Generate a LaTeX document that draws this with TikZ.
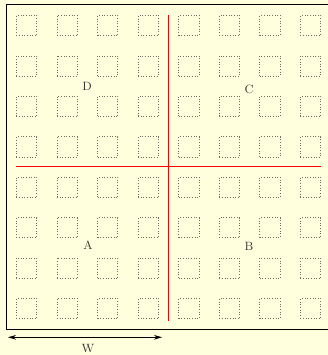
\documentclass[tikz,border=0pt]{standalone}
\usetikzlibrary{arrows.meta}
\definecolor{bgyellow}{RGB}{255,255,221}
\definecolor{dotgray}{RGB}{110,110,100}
\begin{document}
\begin{tikzpicture}[x=0.75pt,y=-0.75pt,
  cell/.style={draw=dotgray,line width=0.45pt,dash pattern=on 0.45pt off 1.55pt,minimum size=15.2pt,inner sep=0pt},
  split/.style={red,line width=0.8pt},
  frameline/.style={black,line width=0.7pt},
  lbl/.style={font=\small,inner sep=0pt,text=black!80}]
\fill[bgyellow] (0,0) rectangle (328,355);
\useasboundingbox (0,0) rectangle (328,355);
% frame (right side lies beyond the picture)
\coordinate (ftr) at (330,4.8);
\coordinate (ftl) at (6,4.8);
\coordinate (fbl) at (6,329);
\coordinate (fbr) at (330,329);
\draw[frameline] (ftr) -- (ftl) -- (fbl) -- (fbr);
% grid of dotted squares
\foreach \i in {0,...,7}{
  \foreach \j in {0,...,7}{
    \node[cell] (c\i\j) at ({26.5+40.57*\i},{25.5+40.43*\j}) {};
  }
}
% red splitting lines
\coordinate (vt) at (168.3,15);
\coordinate (vb) at (168.3,321);
\coordinate (hl) at (16,166.7);
\coordinate (hr) at (321,166.7);
\draw[split] (vt) -- (vb);
\draw[split] (hl) -- (hr);
% quadrant labels
\node[lbl] (D) at (87,86) {D};
\node[lbl] (C) at (249,89) {C};
\node[lbl] (A) at (88,245) {A};
\node[lbl] (B) at (249,246) {B};
% width arrow
\coordinate (wl) at (8,337.3);
\coordinate (wr) at (162,337.3);
\draw[frameline,{Stealth[length=6pt,width=3.5pt]}-{Stealth[length=6pt,width=3.5pt]}] (wl) -- (wr);
\node[lbl] (W) at (88,349) {W};
\end{tikzpicture}
\end{document}
